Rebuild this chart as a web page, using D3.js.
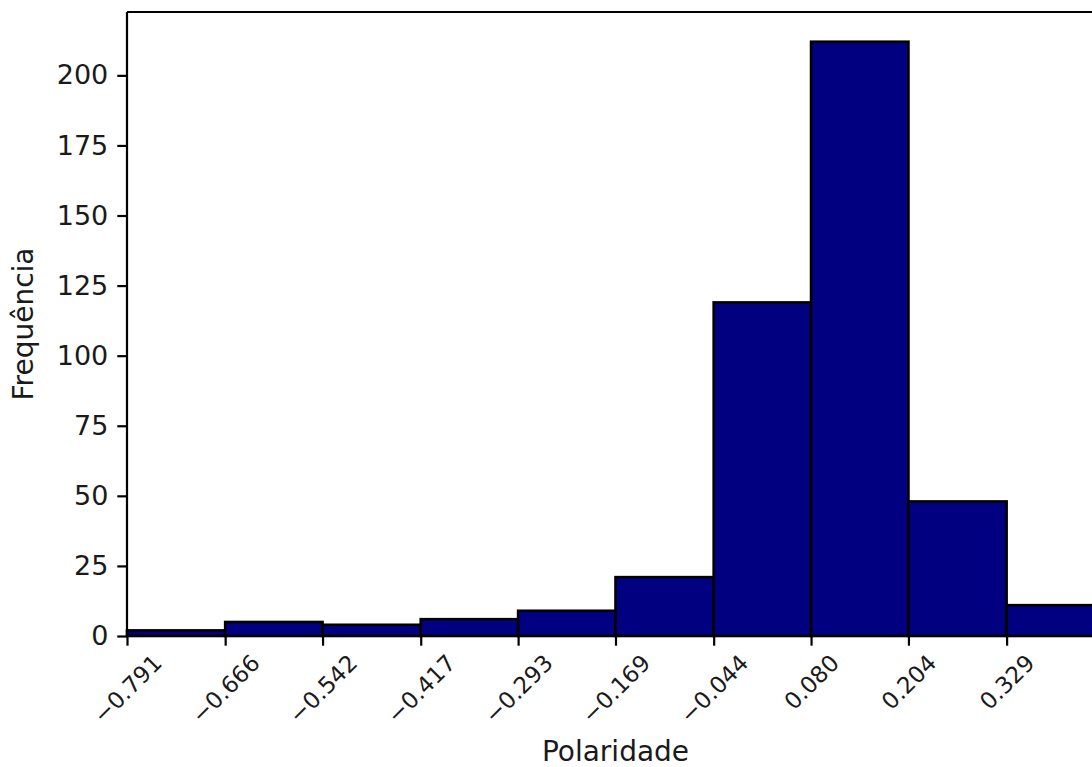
<!DOCTYPE html>
<html>
<head>
<meta charset="utf-8">
<script src="https://cdn.jsdelivr.net/npm/d3@7"></script>
<style>
  html, body { margin: 0; padding: 0; background: #fff; }
  svg { display: block; font-family: "DejaVu Sans", sans-serif; }
</style>
</head>
<body>
<svg id="chart" width="1092" height="767"></svg>
<script>
// Histogram of polarity scores: bin edges and counts per bin
const binEdges = [-0.791, -0.666, -0.542, -0.417, -0.293, -0.169, -0.044, 0.080, 0.204, 0.329, 0.453];
const counts = [2, 5, 4, 6, 9, 21, 119, 212, 48, 11];
const yTicks = [0, 25, 50, 75, 100, 125, 150, 175, 200];
const xLabel = "Polaridade";
const yLabel = "Frequência";

const svg = d3.select("#chart");
const plot = { left: 127, right: 1104, top: 12, bottom: 636 };

const x = d3.scaleLinear()
  .domain([binEdges[0], binEdges[binEdges.length - 1]])
  .range([plot.left, plot.right]);
const y = d3.scaleLinear()
  .domain([0, d3.max(counts) * 1.05])
  .range([plot.bottom, plot.top]);

const bins = counts.map((c, i) => ({ x0: binEdges[i], x1: binEdges[i + 1], count: c }));

// bars
svg.append("g")
  .selectAll("rect")
  .data(bins)
  .join("rect")
  .attr("x", d => x(d.x0))
  .attr("y", d => y(d.count))
  .attr("width", d => x(d.x1) - x(d.x0))
  .attr("height", d => y(0) - y(d.count))
  .attr("fill", "#000080")
  .attr("stroke", "#000")
  .attr("stroke-width", 2.6);

// y axis
const yAxis = svg.append("g")
  .attr("transform", `translate(${plot.left},0)`)
  .call(d3.axisLeft(y).tickValues(yTicks).tickSize(9.7).tickPadding(9).tickFormat(d3.format("d")));
yAxis.select(".domain").remove();
yAxis.selectAll(".tick line").attr("stroke", "#000").attr("stroke-width", 2.2);
yAxis.selectAll(".tick text")
  .attr("fill", "#1a1a1a")
  .style("font-size", "27px")
  .style("font-family", "DejaVu Sans");

// x axis with rotated labels
const xAxis = svg.append("g")
  .attr("transform", `translate(0,${plot.bottom})`)
  .call(d3.axisBottom(x).tickValues(binEdges.slice(0, -1)).tickSize(9.7).tickFormat(d3.format(".3f")));
xAxis.select(".domain").remove();
xAxis.selectAll(".tick line").attr("stroke", "#000").attr("stroke-width", 2.2);
const fs = 23;
xAxis.selectAll(".tick text")
  .attr("fill", "#1a1a1a")
  .style("font-size", fs + "px")
  .style("font-family", "DejaVu Sans")
  .attr("dy", null)
  .attr("y", null)
  .attr("text-anchor", "middle")
  .attr("dominant-baseline", "central")
  .each(function () {
    const L = this.getComputedTextLength();
    const H = fs * 1.0;
    const half = (L + H) / (2 * Math.SQRT2);
    const cy = 9.7 + 5 + half;
    d3.select(this).attr("transform", `translate(0,${cy}) rotate(-45)`);
  });

// spines: left, bottom, top (right lies outside the canvas)
const spine = svg.append("g").attr("stroke", "#000").attr("stroke-width", 2.2).attr("fill", "none");
spine.append("line").attr("x1", plot.left).attr("x2", plot.left).attr("y1", plot.top).attr("y2", plot.bottom);
spine.append("line").attr("x1", plot.left).attr("x2", plot.right).attr("y1", plot.bottom).attr("y2", plot.bottom);
spine.append("line").attr("x1", plot.left).attr("x2", plot.right).attr("y1", plot.top).attr("y2", plot.top);
spine.append("line").attr("x1", plot.right).attr("x2", plot.right).attr("y1", plot.top).attr("y2", plot.bottom);

// axis titles
svg.append("text")
  .attr("x", (plot.left + plot.right) / 2)
  .attr("y", 761)
  .attr("text-anchor", "middle")
  .attr("fill", "#1a1a1a")
  .style("font-size", "28px")
  .text(xLabel);

svg.append("text")
  .attr("transform", `translate(33,${(plot.top + plot.bottom) / 2}) rotate(-90)`)
  .attr("text-anchor", "middle")
  .attr("fill", "#1a1a1a")
  .style("font-size", "28px")
  .text(yLabel);
</script>
</body>
</html>
